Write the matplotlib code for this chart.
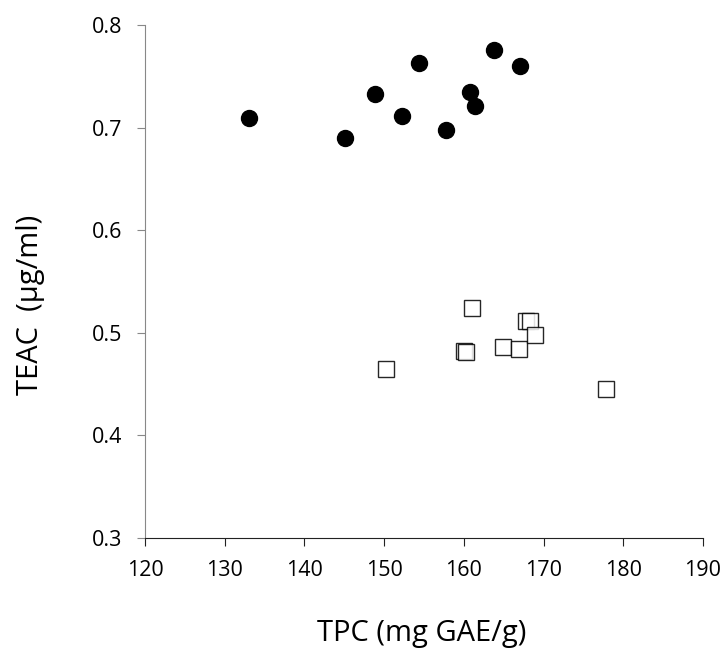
import matplotlib
matplotlib.use("Agg")
import matplotlib.pyplot as plt

# Data
circle_tpc = [133.1, 145.1, 148.8, 152.3, 154.4, 157.7, 160.8, 161.4, 163.8, 167.1]
circle_teac = [0.709, 0.690, 0.733, 0.711, 0.763, 0.698, 0.735, 0.721, 0.776, 0.760]

square_tpc = [161.0, 160.0, 160.3, 150.2, 164.9, 166.9, 167.8, 168.3, 168.9, 177.8]
square_teac = [0.524, 0.482, 0.481, 0.465, 0.486, 0.484, 0.511, 0.511, 0.498, 0.445]

x_ticks = [120, 130, 140, 150, 160, 170, 180, 190]
y_ticks = [0.3, 0.4, 0.5, 0.6, 0.7, 0.8]

plt.rcParams['font.family'] = ['Open Sans', 'DejaVu Sans']

fig = plt.figure(figsize=(7.27, 6.54), dpi=100)
ax = fig.add_axes([0.1994, 0.1774, 0.7676, 0.7844])

ax.plot(circle_tpc, circle_teac, 'o', color='black', markersize=11.5, linestyle='none')
ax.plot(square_tpc, square_teac, 's', markerfacecolor='white', markeredgecolor='black',
        markeredgewidth=1.0, markersize=11.5, linestyle='none', alpha=0.85)

ax.set_xlim(120, 190)
ax.set_ylim(0.3, 0.8)
ax.set_xticks(x_ticks)
ax.set_yticks(y_ticks)
ax.set_xticklabels([str(t) for t in x_ticks])
ax.set_yticklabels([f'{t:.1f}' for t in y_ticks])

for s in ['top', 'right']:
    ax.spines[s].set_visible(False)
ax.spines['left'].set_color('#888888')
ax.spines['bottom'].set_color('#222222')
ax.tick_params(axis='y', direction='out', length=5.5, color='#888888', labelsize=15.5, pad=11)
ax.tick_params(axis='x', direction='out', length=5.5, color='#222222', labelsize=15.5, pad=10)

ax.set_xlabel('TPC (mg GAE/g)', fontsize=21, va='center')
ax.set_ylabel('TEAC  (\u00b5g/ml)', fontsize=21, va='center')
ax.xaxis.set_label_coords(0.495, -0.187)
ax.yaxis.set_label_coords(-0.205, 0.455)

fig.savefig('out.png', dpi=100)
